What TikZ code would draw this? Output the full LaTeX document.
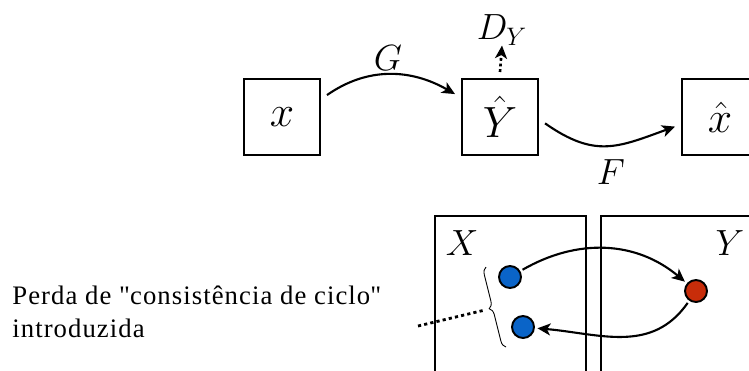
\documentclass[tikz,border=0pt]{standalone}
\usepackage{fontspec}
\setmainfont{Liberation Serif}
\usetikzlibrary{arrows.meta, decorations.pathreplacing}
\definecolor{sample-blue}{RGB}{10,100,200}
\definecolor{sample-red}{RGB}{200,45,10}

\begin{document}
\begin{tikzpicture}[
    x=0.02cm, y=-0.02cm,
    box/.style={rectangle, draw, line width=1.5pt, minimum size=1.52cm,
                inner sep=0pt, outer sep=4pt,
                font=\fontsize{25}{30}\selectfont},
    lbl/.style={inner sep=0pt, font=\fontsize{20}{24}\selectfont},
    sample/.style={circle, draw, line width=1.1pt, minimum size=0.44cm,
                   inner sep=0pt, outer sep=2pt},
    arr/.style={-{Stealth[length=2.6mm, width=2.4mm, inset=0.7mm]},
                line width=1.2pt},
    frame/.style={line width=1.4pt},
]
\useasboundingbox (0,0) rectangle (749,370);
\clip (0,0) rectangle (749,370);

% top row: x -> Y^ -> x^
\node[box] (xin) at (282,117) {$x$};
\node[box] (yhat) at (500,117) {$\hat{Y}$};
\node[box] (xhat) at (720,117) {$\hat{x}$};

\node[lbl] (G) at (388,58) {$G$};
\node[lbl] (F) at (611,172) {$F$};
\node[lbl] (dy) at (502,30) {$D_Y$};

\draw[arr] (xin.26) to[out=35, in=150] (yhat.153);
\draw[arr] (yhat.-8) to[out=-35, in=200, looseness=1.2] (xhat.192);
\draw[arr, line width=1.5pt, dash pattern=on 1.6pt off 1.6pt]
    (yhat.north) -- (dy.south);

% bottom: the two domains
\draw[frame] (435,216) rectangle (586,420);
\draw[frame] (601,216) rectangle (752,420);
\node[lbl] (X) at (462,243) {$X$};
\node[lbl] (Y) at (730,243) {$Y$};

\node[sample, fill=sample-blue] (a) at (510,277) {};
\node[sample, fill=sample-red] (b) at (696,291) {};
\node[sample, fill=sample-blue] (c) at (523,327) {};

\draw[arr] (a) to[out=30, in=140] (b);
\draw[arr] (b) to[out=-125, in=-5, looseness=1.05] (c);

% brace and loss label
\draw[line width=0.5pt, decorate, decoration={brace, amplitude=4pt}]
    (506,347) -- (486,267);
\coordinate (bracetip) at (485,310);

\node[anchor=west, align=left, inner sep=0pt,
      font=\fontsize{15.2}{18.7}\selectfont\addfontfeature{LetterSpace=4}]
    (loss) at (12,312)
    {Perda de \textquotedbl consistência de ciclo\textquotedbl\\introduzida};
\coordinate (lossend) at (418,326);
\draw[line width=1.6pt, dash pattern=on 1.8pt off 1.8pt] (lossend) -- (bracetip);

\end{tikzpicture}
\end{document}
